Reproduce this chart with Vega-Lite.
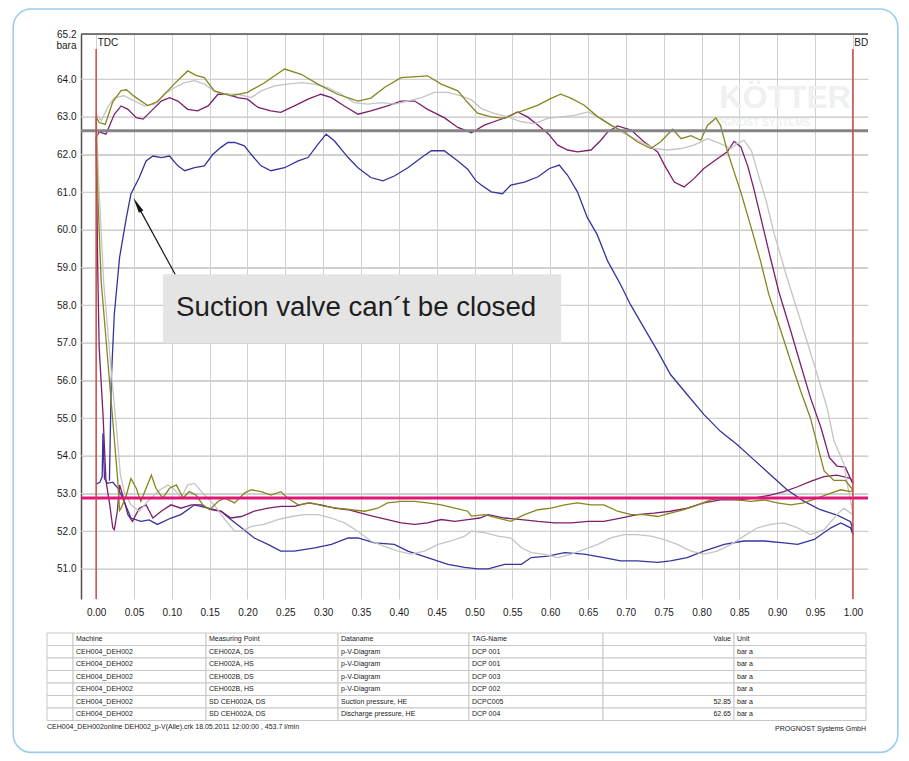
{
"$schema": "https://vega.github.io/schema/vega-lite/v6.json",
"padding": {"left": 12, "top": 8, "right": 12, "bottom": 9},
"background": "white",
"bounds": "flush",
"spacing": 34,
"config": {"view": {"stroke": null}, "font": "Liberation Sans, Arial, sans-serif",
 "axisX": {"grid": true, "gridColor": "#d0d0d0", "gridWidth": 1, "gridOpacity": 1, "domain": false, "ticks": false, "labelFontSize": 10, "labelColor": "#1a1a1a", "labelPadding": 8, "labelOverlap": false, "labelFlush": false},
 "axisY": {"grid": true, "gridColor": "#d0d0d0", "gridWidth": 1, "gridOpacity": 1, "domain": true, "domainColor": "#505050", "domainWidth": 1.5, "ticks": false, "labelFontSize": 10, "labelPadding": 5, "labelColor": "#1a1a1a", "labelOverlap": false, "labelFlush": false, "titleAngle": 0, "titleX": -15, "titleY": 11, "titleAlign": "center", "titleBaseline": "middle", "titleFontWeight": "normal", "titleFontSize": 10, "titleColor": "#1a1a1a"}},
"datasets": {
"frame": [{"x": -0.1096, "x2": 1.0594, "y": 65.863, "y2": 46.129}],
"top": [{"y": 65.2}],
"ygrid": [{"y": 51}, {"y": 52}, {"y": 53}, {"y": 54}, {"y": 55}, {"y": 56}, {"y": 57}, {"y": 58}, {"y": 59}, {"y": 60}, {"y": 61}, {"y": 62}, {"y": 63}, {"y": 64}],
"watermark": [{"x": 0.9105, "y": 63.5, "text": "KÖTTER"}, {"x": 0.872, "y": 62.84, "text": "PROGNOST SYSTEMS"}],
"refs": [{"id": "Suction", "y": 52.88}, {"id": "Discharge", "y": 62.63}],
"dc": [{"x": 0, "label": "TDC", "y": 64.8, "y2": 50.2, "ly": 64.97}, {"x": 1, "label": "BDC", "y": 64.8, "y2": 50.2, "ly": 64.97}],
"note": [{"x": 0.0885, "x2": 0.6145, "y": 58.82, "y2": 56.99, "tx": 0.1057, "ty": 57.93, "text": "Suction valve can´t be closed"}],
"arrow": [{"x": 0.1044, "y": 58.82}, {"x": 0.0543, "y": 60.67}],
"arrowhead": [{"x": 0.0543, "y": 60.67}],
"curves": [
{"s":"A DS","x":0.0,"y":53.25},{"s":"A DS","x":0.005,"y":53.3},{"s":"A DS","x":0.008,"y":53.45},{"s":"A DS","x":0.009,"y":54.6},{"s":"A DS","x":0.011,"y":53.4},{"s":"A DS","x":0.015,"y":53.27},{"s":"A DS","x":0.022,"y":53.3},{"s":"A DS","x":0.029,"y":53.14},{"s":"A DS","x":0.035,"y":52.88},{"s":"A DS","x":0.046,"y":52.35},{"s":"A DS","x":0.059,"y":52.26},{"s":"A DS","x":0.07,"y":52.3},{"s":"A DS","x":0.081,"y":52.18},{"s":"A DS","x":0.099,"y":52.35},{"s":"A DS","x":0.112,"y":52.44},{"s":"A DS","x":0.13,"y":52.7},{"s":"A DS","x":0.148,"y":52.61},{"s":"A DS","x":0.165,"y":52.53},{"s":"A DS","x":0.178,"y":52.31},{"s":"A DS","x":0.192,"y":52.09},{"s":"A DS","x":0.209,"y":51.82},{"s":"A DS","x":0.227,"y":51.65},{"s":"A DS","x":0.244,"y":51.47},{"s":"A DS","x":0.262,"y":51.47},{"s":"A DS","x":0.289,"y":51.56},{"s":"A DS","x":0.311,"y":51.65},{"s":"A DS","x":0.333,"y":51.82},{"s":"A DS","x":0.346,"y":51.82},{"s":"A DS","x":0.368,"y":51.69},{"s":"A DS","x":0.394,"y":51.65},{"s":"A DS","x":0.412,"y":51.47},{"s":"A DS","x":0.438,"y":51.3},{"s":"A DS","x":0.465,"y":51.12},{"s":"A DS","x":0.487,"y":51.04},{"s":"A DS","x":0.504,"y":51.0},{"s":"A DS","x":0.518,"y":51.0},{"s":"A DS","x":0.54,"y":51.12},{"s":"A DS","x":0.562,"y":51.12},{"s":"A DS","x":0.575,"y":51.3},{"s":"A DS","x":0.597,"y":51.34},{"s":"A DS","x":0.619,"y":51.43},{"s":"A DS","x":0.645,"y":51.39},{"s":"A DS","x":0.671,"y":51.3},{"s":"A DS","x":0.693,"y":51.21},{"s":"A DS","x":0.715,"y":51.21},{"s":"A DS","x":0.742,"y":51.17},{"s":"A DS","x":0.759,"y":51.21},{"s":"A DS","x":0.781,"y":51.3},{"s":"A DS","x":0.803,"y":51.47},{"s":"A DS","x":0.83,"y":51.65},{"s":"A DS","x":0.856,"y":51.74},{"s":"A DS","x":0.883,"y":51.74},{"s":"A DS","x":0.909,"y":51.69},{"s":"A DS","x":0.927,"y":51.65},{"s":"A DS","x":0.949,"y":51.78},{"s":"A DS","x":0.971,"y":52.09},{"s":"A DS","x":0.984,"y":52.22},{"s":"A DS","x":0.997,"y":52.09},{"s":"A DS","x":1.0,"y":51.91},
{"s":"A DS","x":0.999,"y":52.1},{"s":"A DS","x":0.997,"y":52.25},{"s":"A DS","x":0.98,"y":52.42},{"s":"A DS","x":0.957,"y":52.57},{"s":"A DS","x":0.935,"y":52.8},{"s":"A DS","x":0.913,"y":53.1},{"s":"A DS","x":0.891,"y":53.5},{"s":"A DS","x":0.869,"y":53.9},{"s":"A DS","x":0.847,"y":54.3},{"s":"A DS","x":0.825,"y":54.65},{"s":"A DS","x":0.803,"y":55.1},{"s":"A DS","x":0.781,"y":55.63},{"s":"A DS","x":0.759,"y":56.16},{"s":"A DS","x":0.742,"y":56.78},{"s":"A DS","x":0.724,"y":57.4},{"s":"A DS","x":0.706,"y":58.02},{"s":"A DS","x":0.693,"y":58.55},{"s":"A DS","x":0.676,"y":59.17},{"s":"A DS","x":0.662,"y":59.88},{"s":"A DS","x":0.649,"y":60.33},{"s":"A DS","x":0.636,"y":61.01},{"s":"A DS","x":0.623,"y":61.45},{"s":"A DS","x":0.612,"y":61.72},{"s":"A DS","x":0.599,"y":61.63},{"s":"A DS","x":0.584,"y":61.41},{"s":"A DS","x":0.566,"y":61.27},{"s":"A DS","x":0.548,"y":61.19},{"s":"A DS","x":0.537,"y":60.96},{"s":"A DS","x":0.522,"y":61.01},{"s":"A DS","x":0.509,"y":61.19},{"s":"A DS","x":0.502,"y":61.3},{"s":"A DS","x":0.491,"y":61.61},{"s":"A DS","x":0.478,"y":61.83},{"s":"A DS","x":0.46,"y":62.1},{"s":"A DS","x":0.443,"y":62.1},{"s":"A DS","x":0.43,"y":61.92},{"s":"A DS","x":0.412,"y":61.65},{"s":"A DS","x":0.394,"y":61.43},{"s":"A DS","x":0.379,"y":61.3},{"s":"A DS","x":0.363,"y":61.39},{"s":"A DS","x":0.346,"y":61.65},{"s":"A DS","x":0.333,"y":61.92},{"s":"A DS","x":0.315,"y":62.36},{"s":"A DS","x":0.304,"y":62.54},{"s":"A DS","x":0.293,"y":62.27},{"s":"A DS","x":0.28,"y":61.92},{"s":"A DS","x":0.267,"y":61.83},{"s":"A DS","x":0.249,"y":61.65},{"s":"A DS","x":0.231,"y":61.57},{"s":"A DS","x":0.218,"y":61.7},{"s":"A DS","x":0.205,"y":62.0},{"s":"A DS","x":0.196,"y":62.23},{"s":"A DS","x":0.183,"y":62.32},{"s":"A DS","x":0.174,"y":62.32},{"s":"A DS","x":0.165,"y":62.19},{"s":"A DS","x":0.154,"y":62.0},{"s":"A DS","x":0.143,"y":61.7},{"s":"A DS","x":0.13,"y":61.65},{"s":"A DS","x":0.117,"y":61.57},{"s":"A DS","x":0.108,"y":61.7},{"s":"A DS","x":0.097,"y":61.96},{"s":"A DS","x":0.086,"y":61.92},{"s":"A DS","x":0.075,"y":61.96},{"s":"A DS","x":0.066,"y":61.83},{"s":"A DS","x":0.057,"y":61.39},{"s":"A DS","x":0.046,"y":60.95},{"s":"A DS","x":0.04,"y":60.33},{"s":"A DS","x":0.031,"y":59.27},{"s":"A DS","x":0.024,"y":57.76},{"s":"A DS","x":0.02,"y":56.0},{"s":"A DS","x":0.0176,"y":53.34},
{"s":"A HS","x":0.0,"y":62.45},{"s":"A HS","x":0.004,"y":62.6},{"s":"A HS","x":0.013,"y":62.54},{"s":"A HS","x":0.024,"y":63.07},{"s":"A HS","x":0.033,"y":63.29},{"s":"A HS","x":0.042,"y":63.2},{"s":"A HS","x":0.053,"y":62.98},{"s":"A HS","x":0.062,"y":62.94},{"s":"A HS","x":0.073,"y":63.16},{"s":"A HS","x":0.086,"y":63.42},{"s":"A HS","x":0.097,"y":63.51},{"s":"A HS","x":0.108,"y":63.42},{"s":"A HS","x":0.121,"y":63.2},{"s":"A HS","x":0.134,"y":63.16},{"s":"A HS","x":0.148,"y":63.29},{"s":"A HS","x":0.161,"y":63.6},{"s":"A HS","x":0.174,"y":63.6},{"s":"A HS","x":0.187,"y":63.51},{"s":"A HS","x":0.2,"y":63.47},{"s":"A HS","x":0.214,"y":63.25},{"s":"A HS","x":0.231,"y":63.16},{"s":"A HS","x":0.244,"y":63.12},{"s":"A HS","x":0.262,"y":63.29},{"s":"A HS","x":0.28,"y":63.47},{"s":"A HS","x":0.297,"y":63.6},{"s":"A HS","x":0.311,"y":63.51},{"s":"A HS","x":0.328,"y":63.29},{"s":"A HS","x":0.346,"y":63.07},{"s":"A HS","x":0.363,"y":63.16},{"s":"A HS","x":0.385,"y":63.29},{"s":"A HS","x":0.403,"y":63.42},{"s":"A HS","x":0.421,"y":63.42},{"s":"A HS","x":0.438,"y":63.2},{"s":"A HS","x":0.46,"y":62.98},{"s":"A HS","x":0.478,"y":62.72},{"s":"A HS","x":0.496,"y":62.58},{"s":"A HS","x":0.513,"y":62.78},{"s":"A HS","x":0.531,"y":62.91},{"s":"A HS","x":0.544,"y":63.0},{"s":"A HS","x":0.557,"y":63.13},{"s":"A HS","x":0.57,"y":63.0},{"s":"A HS","x":0.584,"y":62.78},{"s":"A HS","x":0.597,"y":62.56},{"s":"A HS","x":0.61,"y":62.25},{"s":"A HS","x":0.623,"y":62.12},{"s":"A HS","x":0.636,"y":62.07},{"s":"A HS","x":0.654,"y":62.12},{"s":"A HS","x":0.667,"y":62.38},{"s":"A HS","x":0.676,"y":62.6},{"s":"A HS","x":0.689,"y":62.76},{"s":"A HS","x":0.707,"y":62.65},{"s":"A HS","x":0.724,"y":62.34},{"s":"A HS","x":0.742,"y":62.07},{"s":"A HS","x":0.751,"y":61.72},{"s":"A HS","x":0.764,"y":61.27},{"s":"A HS","x":0.777,"y":61.14},{"s":"A HS","x":0.79,"y":61.36},{"s":"A HS","x":0.803,"y":61.63},{"s":"A HS","x":0.821,"y":61.89},{"s":"A HS","x":0.834,"y":62.07},{"s":"A HS","x":0.843,"y":62.35},{"s":"A HS","x":0.852,"y":62.2},{"s":"A HS","x":0.861,"y":61.7},{"s":"A HS","x":0.869,"y":61.1},{"s":"A HS","x":0.878,"y":60.35},{"s":"A HS","x":0.891,"y":59.26},{"s":"A HS","x":0.902,"y":58.37},{"s":"A HS","x":0.918,"y":57.31},{"s":"A HS","x":0.931,"y":56.42},{"s":"A HS","x":0.944,"y":55.54},{"s":"A HS","x":0.958,"y":54.74},{"s":"A HS","x":0.969,"y":53.95},{"s":"A HS","x":0.979,"y":53.73},{"s":"A HS","x":0.99,"y":53.7},{"s":"A HS","x":0.999,"y":53.3},
{"s":"A HS","x":1.0,"y":53.3},{"s":"A HS","x":0.997,"y":53.4},{"s":"A HS","x":0.979,"y":53.49},{"s":"A HS","x":0.962,"y":53.45},{"s":"A HS","x":0.944,"y":53.32},{"s":"A HS","x":0.927,"y":53.18},{"s":"A HS","x":0.909,"y":53.05},{"s":"A HS","x":0.891,"y":52.96},{"s":"A HS","x":0.869,"y":52.88},{"s":"A HS","x":0.847,"y":52.83},{"s":"A HS","x":0.825,"y":52.83},{"s":"A HS","x":0.803,"y":52.75},{"s":"A HS","x":0.781,"y":52.61},{"s":"A HS","x":0.759,"y":52.53},{"s":"A HS","x":0.737,"y":52.48},{"s":"A HS","x":0.715,"y":52.44},{"s":"A HS","x":0.693,"y":52.35},{"s":"A HS","x":0.671,"y":52.26},{"s":"A HS","x":0.65,"y":52.26},{"s":"A HS","x":0.628,"y":52.22},{"s":"A HS","x":0.606,"y":52.22},{"s":"A HS","x":0.584,"y":52.26},{"s":"A HS","x":0.562,"y":52.31},{"s":"A HS","x":0.54,"y":52.35},{"s":"A HS","x":0.518,"y":52.44},{"s":"A HS","x":0.507,"y":52.35},{"s":"A HS","x":0.491,"y":52.31},{"s":"A HS","x":0.474,"y":52.26},{"s":"A HS","x":0.456,"y":52.31},{"s":"A HS","x":0.438,"y":52.22},{"s":"A HS","x":0.421,"y":52.18},{"s":"A HS","x":0.403,"y":52.22},{"s":"A HS","x":0.385,"y":52.31},{"s":"A HS","x":0.368,"y":52.39},{"s":"A HS","x":0.35,"y":52.48},{"s":"A HS","x":0.333,"y":52.57},{"s":"A HS","x":0.315,"y":52.61},{"s":"A HS","x":0.297,"y":52.7},{"s":"A HS","x":0.28,"y":52.75},{"s":"A HS","x":0.262,"y":52.66},{"s":"A HS","x":0.244,"y":52.66},{"s":"A HS","x":0.227,"y":52.61},{"s":"A HS","x":0.209,"y":52.53},{"s":"A HS","x":0.192,"y":52.39},{"s":"A HS","x":0.178,"y":52.35},{"s":"A HS","x":0.165,"y":52.53},{"s":"A HS","x":0.152,"y":52.57},{"s":"A HS","x":0.139,"y":52.7},{"s":"A HS","x":0.126,"y":52.7},{"s":"A HS","x":0.112,"y":52.61},{"s":"A HS","x":0.099,"y":52.7},{"s":"A HS","x":0.086,"y":52.53},{"s":"A HS","x":0.075,"y":52.35},{"s":"A HS","x":0.066,"y":52.7},{"s":"A HS","x":0.057,"y":52.61},{"s":"A HS","x":0.048,"y":52.26},{"s":"A HS","x":0.042,"y":52.44},{"s":"A HS","x":0.035,"y":52.96},{"s":"A HS","x":0.031,"y":53.23},{"s":"A HS","x":0.028,"y":52.53},{"s":"A HS","x":0.024,"y":52.04},{"s":"A HS","x":0.022,"y":52.09},{"s":"A HS","x":0.018,"y":52.7},{"s":"A HS","x":0.013,"y":53.34},{"s":"A HS","x":0.009,"y":55.12},{"s":"A HS","x":0.004,"y":56.88},{"s":"A HS","x":0.002,"y":59.09},{"s":"A HS","x":0.0,"y":62.45},
{"s":"B DS","x":0.0,"y":63.07},{"s":"B DS","x":0.007,"y":62.9},{"s":"B DS","x":0.015,"y":63.25},{"s":"B DS","x":0.024,"y":63.51},{"s":"B DS","x":0.037,"y":63.56},{"s":"B DS","x":0.051,"y":63.42},{"s":"B DS","x":0.064,"y":63.29},{"s":"B DS","x":0.077,"y":63.34},{"s":"B DS","x":0.09,"y":63.6},{"s":"B DS","x":0.104,"y":63.78},{"s":"B DS","x":0.117,"y":63.91},{"s":"B DS","x":0.13,"y":63.96},{"s":"B DS","x":0.143,"y":63.87},{"s":"B DS","x":0.156,"y":63.69},{"s":"B DS","x":0.17,"y":63.6},{"s":"B DS","x":0.187,"y":63.6},{"s":"B DS","x":0.205,"y":63.51},{"s":"B DS","x":0.218,"y":63.69},{"s":"B DS","x":0.236,"y":63.82},{"s":"B DS","x":0.253,"y":63.87},{"s":"B DS","x":0.271,"y":63.91},{"s":"B DS","x":0.289,"y":63.87},{"s":"B DS","x":0.306,"y":63.78},{"s":"B DS","x":0.324,"y":63.6},{"s":"B DS","x":0.341,"y":63.38},{"s":"B DS","x":0.359,"y":63.34},{"s":"B DS","x":0.377,"y":63.38},{"s":"B DS","x":0.394,"y":63.34},{"s":"B DS","x":0.412,"y":63.42},{"s":"B DS","x":0.43,"y":63.51},{"s":"B DS","x":0.447,"y":63.65},{"s":"B DS","x":0.465,"y":63.65},{"s":"B DS","x":0.482,"y":63.56},{"s":"B DS","x":0.496,"y":63.45},{"s":"B DS","x":0.509,"y":63.22},{"s":"B DS","x":0.526,"y":63.09},{"s":"B DS","x":0.544,"y":63.0},{"s":"B DS","x":0.562,"y":62.87},{"s":"B DS","x":0.579,"y":62.82},{"s":"B DS","x":0.597,"y":62.96},{"s":"B DS","x":0.614,"y":63.0},{"s":"B DS","x":0.632,"y":63.04},{"s":"B DS","x":0.65,"y":63.13},{"s":"B DS","x":0.667,"y":62.96},{"s":"B DS","x":0.685,"y":62.73},{"s":"B DS","x":0.702,"y":62.51},{"s":"B DS","x":0.72,"y":62.34},{"s":"B DS","x":0.737,"y":62.16},{"s":"B DS","x":0.755,"y":62.12},{"s":"B DS","x":0.773,"y":62.16},{"s":"B DS","x":0.79,"y":62.25},{"s":"B DS","x":0.808,"y":62.42},{"s":"B DS","x":0.825,"y":62.29},{"s":"B DS","x":0.839,"y":62.16},{"s":"B DS","x":0.847,"y":62.29},{"s":"B DS","x":0.856,"y":62.38},{"s":"B DS","x":0.866,"y":62.1},{"s":"B DS","x":0.876,"y":61.4},{"s":"B DS","x":0.885,"y":60.8},{"s":"B DS","x":0.896,"y":59.9},{"s":"B DS","x":0.913,"y":58.73},{"s":"B DS","x":0.931,"y":57.58},{"s":"B DS","x":0.949,"y":56.42},{"s":"B DS","x":0.966,"y":55.27},{"s":"B DS","x":0.975,"y":54.4},{"s":"B DS","x":0.988,"y":53.8},{"s":"B DS","x":0.995,"y":53.0},{"s":"B DS","x":1.0,"y":52.5},
{"s":"B DS","x":1.0,"y":52.44},{"s":"B DS","x":0.988,"y":52.61},{"s":"B DS","x":0.979,"y":52.44},{"s":"B DS","x":0.962,"y":52.04},{"s":"B DS","x":0.944,"y":51.91},{"s":"B DS","x":0.927,"y":52.09},{"s":"B DS","x":0.909,"y":52.22},{"s":"B DS","x":0.891,"y":52.18},{"s":"B DS","x":0.874,"y":52.09},{"s":"B DS","x":0.856,"y":51.87},{"s":"B DS","x":0.839,"y":51.65},{"s":"B DS","x":0.821,"y":51.47},{"s":"B DS","x":0.803,"y":51.39},{"s":"B DS","x":0.786,"y":51.47},{"s":"B DS","x":0.768,"y":51.65},{"s":"B DS","x":0.75,"y":51.78},{"s":"B DS","x":0.733,"y":51.87},{"s":"B DS","x":0.715,"y":51.91},{"s":"B DS","x":0.698,"y":51.91},{"s":"B DS","x":0.68,"y":51.82},{"s":"B DS","x":0.663,"y":51.65},{"s":"B DS","x":0.645,"y":51.52},{"s":"B DS","x":0.628,"y":51.39},{"s":"B DS","x":0.61,"y":51.3},{"s":"B DS","x":0.592,"y":51.39},{"s":"B DS","x":0.575,"y":51.43},{"s":"B DS","x":0.562,"y":51.56},{"s":"B DS","x":0.548,"y":51.82},{"s":"B DS","x":0.531,"y":51.87},{"s":"B DS","x":0.513,"y":51.96},{"s":"B DS","x":0.496,"y":52.0},{"s":"B DS","x":0.487,"y":51.87},{"s":"B DS","x":0.469,"y":51.74},{"s":"B DS","x":0.452,"y":51.65},{"s":"B DS","x":0.434,"y":51.47},{"s":"B DS","x":0.416,"y":51.39},{"s":"B DS","x":0.399,"y":51.47},{"s":"B DS","x":0.381,"y":51.6},{"s":"B DS","x":0.363,"y":51.74},{"s":"B DS","x":0.346,"y":52.0},{"s":"B DS","x":0.328,"y":52.22},{"s":"B DS","x":0.311,"y":52.35},{"s":"B DS","x":0.293,"y":52.44},{"s":"B DS","x":0.275,"y":52.44},{"s":"B DS","x":0.258,"y":52.39},{"s":"B DS","x":0.24,"y":52.31},{"s":"B DS","x":0.222,"y":52.18},{"s":"B DS","x":0.205,"y":52.13},{"s":"B DS","x":0.192,"y":52.0},{"s":"B DS","x":0.183,"y":52.0},{"s":"B DS","x":0.17,"y":52.31},{"s":"B DS","x":0.156,"y":52.7},{"s":"B DS","x":0.143,"y":52.96},{"s":"B DS","x":0.13,"y":53.27},{"s":"B DS","x":0.121,"y":53.23},{"s":"B DS","x":0.112,"y":52.88},{"s":"B DS","x":0.104,"y":53.1},{"s":"B DS","x":0.095,"y":53.23},{"s":"B DS","x":0.081,"y":53.05},{"s":"B DS","x":0.068,"y":52.79},{"s":"B DS","x":0.057,"y":52.53},{"s":"B DS","x":0.046,"y":52.7},{"s":"B DS","x":0.037,"y":53.05},{"s":"B DS","x":0.032,"y":53.5},{"s":"B DS","x":0.028,"y":54.5},{"s":"B DS","x":0.021,"y":56.0},{"s":"B DS","x":0.01,"y":58.6},{"s":"B DS","x":0.004,"y":61.0},{"s":"B DS","x":0.0,"y":63.07},
{"s":"B HS","x":0.0,"y":63.0},{"s":"B HS","x":0.004,"y":62.85},{"s":"B HS","x":0.012,"y":62.8},{"s":"B HS","x":0.022,"y":63.4},{"s":"B HS","x":0.033,"y":63.7},{"s":"B HS","x":0.04,"y":63.72},{"s":"B HS","x":0.05,"y":63.55},{"s":"B HS","x":0.068,"y":63.3},{"s":"B HS","x":0.081,"y":63.4},{"s":"B HS","x":0.103,"y":63.87},{"s":"B HS","x":0.121,"y":64.22},{"s":"B HS","x":0.132,"y":64.1},{"s":"B HS","x":0.143,"y":64.04},{"s":"B HS","x":0.156,"y":63.69},{"s":"B HS","x":0.178,"y":63.56},{"s":"B HS","x":0.2,"y":63.65},{"s":"B HS","x":0.222,"y":63.9},{"s":"B HS","x":0.249,"y":64.27},{"s":"B HS","x":0.271,"y":64.13},{"s":"B HS","x":0.293,"y":63.87},{"s":"B HS","x":0.319,"y":63.6},{"s":"B HS","x":0.346,"y":63.42},{"s":"B HS","x":0.363,"y":63.5},{"s":"B HS","x":0.381,"y":63.78},{"s":"B HS","x":0.403,"y":64.04},{"s":"B HS","x":0.438,"y":64.09},{"s":"B HS","x":0.456,"y":63.87},{"s":"B HS","x":0.478,"y":63.69},{"s":"B HS","x":0.49,"y":63.4},{"s":"B HS","x":0.504,"y":63.1},{"s":"B HS","x":0.522,"y":63.0},{"s":"B HS","x":0.54,"y":62.96},{"s":"B HS","x":0.553,"y":63.09},{"s":"B HS","x":0.566,"y":63.18},{"s":"B HS","x":0.584,"y":63.31},{"s":"B HS","x":0.601,"y":63.49},{"s":"B HS","x":0.614,"y":63.6},{"s":"B HS","x":0.628,"y":63.49},{"s":"B HS","x":0.645,"y":63.31},{"s":"B HS","x":0.663,"y":63.0},{"s":"B HS","x":0.68,"y":62.78},{"s":"B HS","x":0.698,"y":62.6},{"s":"B HS","x":0.715,"y":62.34},{"s":"B HS","x":0.733,"y":62.16},{"s":"B HS","x":0.746,"y":62.34},{"s":"B HS","x":0.762,"y":62.67},{"s":"B HS","x":0.773,"y":62.42},{"s":"B HS","x":0.786,"y":62.5},{"s":"B HS","x":0.799,"y":62.38},{"s":"B HS","x":0.808,"y":62.78},{"s":"B HS","x":0.819,"y":62.97},{"s":"B HS","x":0.825,"y":62.78},{"s":"B HS","x":0.834,"y":62.1},{"s":"B HS","x":0.843,"y":61.54},{"s":"B HS","x":0.852,"y":61.0},{"s":"B HS","x":0.867,"y":59.96},{"s":"B HS","x":0.878,"y":59.17},{"s":"B HS","x":0.889,"y":58.28},{"s":"B HS","x":0.905,"y":57.31},{"s":"B HS","x":0.918,"y":56.5},{"s":"B HS","x":0.931,"y":55.72},{"s":"B HS","x":0.944,"y":55.0},{"s":"B HS","x":0.953,"y":54.3},{"s":"B HS","x":0.962,"y":53.6},{"s":"B HS","x":0.975,"y":53.35},{"s":"B HS","x":0.99,"y":53.35},{"s":"B HS","x":1.0,"y":53.1},
{"s":"B HS","x":0.997,"y":53.05},{"s":"B HS","x":0.984,"y":53.1},{"s":"B HS","x":0.971,"y":53.01},{"s":"B HS","x":0.953,"y":52.88},{"s":"B HS","x":0.935,"y":52.75},{"s":"B HS","x":0.918,"y":52.7},{"s":"B HS","x":0.9,"y":52.75},{"s":"B HS","x":0.883,"y":52.83},{"s":"B HS","x":0.865,"y":52.79},{"s":"B HS","x":0.847,"y":52.83},{"s":"B HS","x":0.83,"y":52.88},{"s":"B HS","x":0.812,"y":52.83},{"s":"B HS","x":0.795,"y":52.7},{"s":"B HS","x":0.777,"y":52.57},{"s":"B HS","x":0.759,"y":52.48},{"s":"B HS","x":0.742,"y":52.39},{"s":"B HS","x":0.724,"y":52.44},{"s":"B HS","x":0.707,"y":52.44},{"s":"B HS","x":0.689,"y":52.53},{"s":"B HS","x":0.671,"y":52.7},{"s":"B HS","x":0.654,"y":52.7},{"s":"B HS","x":0.636,"y":52.75},{"s":"B HS","x":0.619,"y":52.7},{"s":"B HS","x":0.601,"y":52.61},{"s":"B HS","x":0.584,"y":52.57},{"s":"B HS","x":0.566,"y":52.44},{"s":"B HS","x":0.548,"y":52.26},{"s":"B HS","x":0.531,"y":52.35},{"s":"B HS","x":0.513,"y":52.44},{"s":"B HS","x":0.496,"y":52.4},{"s":"B HS","x":0.491,"y":52.53},{"s":"B HS","x":0.474,"y":52.61},{"s":"B HS","x":0.456,"y":52.7},{"s":"B HS","x":0.438,"y":52.75},{"s":"B HS","x":0.421,"y":52.79},{"s":"B HS","x":0.403,"y":52.79},{"s":"B HS","x":0.385,"y":52.75},{"s":"B HS","x":0.372,"y":52.61},{"s":"B HS","x":0.355,"y":52.53},{"s":"B HS","x":0.337,"y":52.57},{"s":"B HS","x":0.319,"y":52.61},{"s":"B HS","x":0.302,"y":52.66},{"s":"B HS","x":0.284,"y":52.75},{"s":"B HS","x":0.267,"y":52.7},{"s":"B HS","x":0.253,"y":52.88},{"s":"B HS","x":0.244,"y":53.05},{"s":"B HS","x":0.231,"y":52.96},{"s":"B HS","x":0.218,"y":53.05},{"s":"B HS","x":0.205,"y":53.1},{"s":"B HS","x":0.196,"y":53.01},{"s":"B HS","x":0.183,"y":52.75},{"s":"B HS","x":0.17,"y":52.88},{"s":"B HS","x":0.161,"y":52.79},{"s":"B HS","x":0.15,"y":52.57},{"s":"B HS","x":0.141,"y":52.7},{"s":"B HS","x":0.132,"y":52.96},{"s":"B HS","x":0.123,"y":53.05},{"s":"B HS","x":0.115,"y":52.88},{"s":"B HS","x":0.106,"y":53.23},{"s":"B HS","x":0.097,"y":53.14},{"s":"B HS","x":0.088,"y":52.88},{"s":"B HS","x":0.079,"y":53.14},{"s":"B HS","x":0.073,"y":53.49},{"s":"B HS","x":0.066,"y":53.14},{"s":"B HS","x":0.059,"y":52.79},{"s":"B HS","x":0.053,"y":53.14},{"s":"B HS","x":0.046,"y":53.4},{"s":"B HS","x":0.04,"y":52.96},{"s":"B HS","x":0.033,"y":52.61},{"s":"B HS","x":0.031,"y":52.55},{"s":"B HS","x":0.0286,"y":53.34},{"s":"B HS","x":0.0176,"y":56.0},{"s":"B HS","x":0.0066,"y":58.65},{"s":"B HS","x":0.0015,"y":61.3},{"s":"B HS","x":0.0,"y":63.0}
],
"table": [
{"r": 0, "id": null, "Machine": "Machine", "Point": "Measuring Point", "Dataname": "Dataname", "Tag": "TAG-Name", "Value": "Value", "Unit": "Unit"},
{"r": 1, "id": "A DS", "Machine": "CEH004_DEH002", "Point": "CEH002A, DS", "Dataname": "p-V-Diagram", "Tag": "DCP 001", "Value": "", "Unit": "bar a"},
{"r": 2, "id": "A HS", "Machine": "CEH004_DEH002", "Point": "CEH002A, HS", "Dataname": "p-V-Diagram", "Tag": "DCP 001", "Value": "", "Unit": "bar a"},
{"r": 3, "id": "B DS", "Machine": "CEH004_DEH002", "Point": "CEH002B, DS", "Dataname": "p-V-Diagram", "Tag": "DCP 003", "Value": "", "Unit": "bar a"},
{"r": 4, "id": "B HS", "Machine": "CEH004_DEH002", "Point": "CEH002B, HS", "Dataname": "p-V-Diagram", "Tag": "DCP 002", "Value": "", "Unit": "bar a"},
{"r": 5, "id": "Suction", "Machine": "CEH004_DEH002", "Point": "SD CEH002A, DS", "Dataname": "Suction pressure, HE", "Tag": "DCPC005", "Value": "52.85", "Unit": "bar a"},
{"r": 6, "id": "Discharge", "Machine": "CEH004_DEH002", "Point": "SD CEH002A, DS", "Dataname": "Discharge pressure, HE", "Tag": "DCP 004", "Value": "62.65", "Unit": "bar a"}
],
"cols": [{"key": "Machine", "c": 1, "c2": 2}, {"key": "Point", "c": 2, "c2": 3}, {"key": "Dataname", "c": 3, "c2": 4}, {"key": "Tag", "c": 4, "c2": 5}, {"key": "Value", "c": 5, "c2": 6}, {"key": "Unit", "c": 6, "c2": 7}],
"footer": [{"r": 7, "side": "left", "text": "CEH004_DEH002online DEH002_p-V(Alle).crk 18.05.2011 12:00:00 ,   453.7 l/min"}, {"r": 7, "side": "right", "text": "PROGNOST Systems GmbH"}]
},
"vconcat": [
{
"width": 787, "height": 565,
"layer": [
{"data": {"name": "frame"}, "mark": {"type": "rect", "fill": "transparent", "stroke": "#9ccdec", "strokeWidth": 1.6, "cornerRadius": 18},
 "encoding": {"x": {"field": "x", "type": "quantitative", "scale": {"domain": [-0.02, 1.02], "nice": false, "zero": false}, "axis": {"values": [0,0.05,0.1,0.15,0.2,0.25,0.3,0.35,0.4,0.45,0.5,0.55,0.6,0.65,0.7,0.75,0.8,0.85,0.9,0.95,1], "format": ".2f", "title": null, "grid": true, "gridColor": "#d0d0d0"}},
  "x2": {"field": "x2"},
  "y": {"field": "y", "type": "quantitative", "scale": {"domain": [50.2, 65.2], "nice": false, "zero": false}, "axis": {"values": [51,52,53,54,55,56,57,58,59,60,61,62,63,64,65.2], "format": ".1f", "title": "bara", "grid": true, "gridColor": "#d0d0d0"}},
  "y2": {"field": "y2"}}},
{"data": {"name": "ygrid"}, "mark": {"type": "rule", "color": "#d0d0d0", "strokeWidth": 1},
 "encoding": {"y": {"field": "y", "type": "quantitative", "scale": {"domain": [50.2, 65.2], "nice": false, "zero": false}, "axis": {"values": [51,52,53,54,55,56,57,58,59,60,61,62,63,64,65.2], "format": ".1f", "title": "bara", "grid": true, "gridColor": "#d0d0d0"}}}},
{"data": {"name": "watermark"}, "transform": [{"filter": {"field": "text", "equal": "KÖTTER"}}],
 "mark": {"type": "text", "fontSize": 32, "fontWeight": "bold", "color": "#eef0f2", "align": "center", "baseline": "middle"},
 "encoding": {"x": {"field": "x", "type": "quantitative", "scale": {"domain": [-0.02, 1.02], "nice": false, "zero": false}, "axis": {"values": [0,0.05,0.1,0.15,0.2,0.25,0.3,0.35,0.4,0.45,0.5,0.55,0.6,0.65,0.7,0.75,0.8,0.85,0.9,0.95,1], "format": ".2f", "title": null, "grid": true, "gridColor": "#d0d0d0"}},
  "y": {"field": "y", "type": "quantitative", "scale": {"domain": [50.2, 65.2], "nice": false, "zero": false}, "axis": {"values": [51,52,53,54,55,56,57,58,59,60,61,62,63,64,65.2], "format": ".1f", "title": "bara", "grid": true, "gridColor": "#d0d0d0"}}, "text": {"field": "text"}}},
{"data": {"name": "watermark"}, "transform": [{"filter": {"field": "text", "equal": "PROGNOST SYSTEMS"}}],
 "mark": {"type": "text", "fontSize": 10, "fontWeight": "bold", "color": "#eef0f2", "align": "center", "baseline": "middle"},
 "encoding": {"x": {"field": "x", "type": "quantitative", "scale": {"domain": [-0.02, 1.02], "nice": false, "zero": false}, "axis": {"values": [0,0.05,0.1,0.15,0.2,0.25,0.3,0.35,0.4,0.45,0.5,0.55,0.6,0.65,0.7,0.75,0.8,0.85,0.9,0.95,1], "format": ".2f", "title": null, "grid": true, "gridColor": "#d0d0d0"}},
  "y": {"field": "y", "type": "quantitative", "scale": {"domain": [50.2, 65.2], "nice": false, "zero": false}, "axis": {"values": [51,52,53,54,55,56,57,58,59,60,61,62,63,64,65.2], "format": ".1f", "title": "bara", "grid": true, "gridColor": "#d0d0d0"}}, "text": {"field": "text"}}},
{"data": {"name": "curves"}, "mark": {"type": "line", "strokeWidth": 1.3},
 "encoding": {
  "x": {"field": "x", "type": "quantitative", "scale": {"domain": [-0.02, 1.02], "nice": false, "zero": false}, "axis": {"values": [0,0.05,0.1,0.15,0.2,0.25,0.3,0.35,0.4,0.45,0.5,0.55,0.6,0.65,0.7,0.75,0.8,0.85,0.9,0.95,1], "format": ".2f", "title": null, "grid": true, "gridColor": "#d0d0d0"}},
  "y": {"field": "y", "type": "quantitative", "scale": {"domain": [50.2, 65.2], "nice": false, "zero": false}, "axis": {"values": [51,52,53,54,55,56,57,58,59,60,61,62,63,64,65.2], "format": ".1f", "title": "bara", "grid": true, "gridColor": "#d0d0d0"}},
  "color": {"field": "s", "type": "nominal", "scale": {"domain": ["A DS","A HS","B DS","B HS","Suction","Discharge"], "range": ["#34349e","#7d1f6b","#c4c4c4","#86861f","#df1677","#858585"]}, "legend": null},
  "order": {"value": null}}},
{"data": {"name": "refs"}, "mark": {"type": "rule", "strokeWidth": 3},
 "encoding": {"y": {"field": "y", "type": "quantitative", "scale": {"domain": [50.2, 65.2], "nice": false, "zero": false}, "axis": {"values": [51,52,53,54,55,56,57,58,59,60,61,62,63,64,65.2], "format": ".1f", "title": "bara", "grid": true, "gridColor": "#d0d0d0"}},
  "color": {"field": "id", "type": "nominal", "scale": {"domain": ["A DS","A HS","B DS","B HS","Suction","Discharge"], "range": ["#34349e","#7d1f6b","#c4c4c4","#86861f","#df1677","#858585"]}, "legend": null}}},
{"data": {"name": "dc"}, "mark": {"type": "rule", "color": "#d04848", "strokeWidth": 1.5},
 "encoding": {"x": {"field": "x", "type": "quantitative", "scale": {"domain": [-0.02, 1.02], "nice": false, "zero": false}, "axis": {"values": [0,0.05,0.1,0.15,0.2,0.25,0.3,0.35,0.4,0.45,0.5,0.55,0.6,0.65,0.7,0.75,0.8,0.85,0.9,0.95,1], "format": ".2f", "title": null, "grid": true, "gridColor": "#d0d0d0"}},
  "y": {"field": "y", "type": "quantitative", "scale": {"domain": [50.2, 65.2], "nice": false, "zero": false}, "axis": {"values": [51,52,53,54,55,56,57,58,59,60,61,62,63,64,65.2], "format": ".1f", "title": "bara", "grid": true, "gridColor": "#d0d0d0"}}, "y2": {"field": "y2"}}},
{"data": {"name": "top"}, "mark": {"type": "rule", "color": "#505050", "strokeWidth": 1.5},
 "encoding": {"y": {"field": "y", "type": "quantitative", "scale": {"domain": [50.2, 65.2], "nice": false, "zero": false}, "axis": {"values": [51,52,53,54,55,56,57,58,59,60,61,62,63,64,65.2], "format": ".1f", "title": "bara", "grid": true, "gridColor": "#d0d0d0"}}}},
{"data": {"name": "dc"}, "mark": {"type": "text", "fontSize": 10, "color": "#1a1a1a", "align": "left", "baseline": "middle", "dx": 1.5, "clip": true},
 "encoding": {"x": {"field": "x", "type": "quantitative", "scale": {"domain": [-0.02, 1.02], "nice": false, "zero": false}, "axis": {"values": [0,0.05,0.1,0.15,0.2,0.25,0.3,0.35,0.4,0.45,0.5,0.55,0.6,0.65,0.7,0.75,0.8,0.85,0.9,0.95,1], "format": ".2f", "title": null, "grid": true, "gridColor": "#d0d0d0"}},
  "y": {"field": "ly", "type": "quantitative", "scale": {"domain": [50.2, 65.2], "nice": false, "zero": false}, "axis": {"values": [51,52,53,54,55,56,57,58,59,60,61,62,63,64,65.2], "format": ".1f", "title": "bara", "grid": true, "gridColor": "#d0d0d0"}}, "text": {"field": "label"}}},
{"data": {"name": "note"}, "mark": {"type": "rect", "fill": "#e4e4e4"},
 "encoding": {"x": {"field": "x", "type": "quantitative", "scale": {"domain": [-0.02, 1.02], "nice": false, "zero": false}, "axis": {"values": [0,0.05,0.1,0.15,0.2,0.25,0.3,0.35,0.4,0.45,0.5,0.55,0.6,0.65,0.7,0.75,0.8,0.85,0.9,0.95,1], "format": ".2f", "title": null, "grid": true, "gridColor": "#d0d0d0"}}, "x2": {"field": "x2"},
  "y": {"field": "y", "type": "quantitative", "scale": {"domain": [50.2, 65.2], "nice": false, "zero": false}, "axis": {"values": [51,52,53,54,55,56,57,58,59,60,61,62,63,64,65.2], "format": ".1f", "title": "bara", "grid": true, "gridColor": "#d0d0d0"}}, "y2": {"field": "y2"}}},
{"data": {"name": "note"}, "mark": {"type": "text", "font": "Liberation Sans, Arial, sans-serif", "fontSize": 27.7, "color": "#1e1e1e", "align": "left", "baseline": "middle"},
 "encoding": {"x": {"field": "tx", "type": "quantitative", "scale": {"domain": [-0.02, 1.02], "nice": false, "zero": false}, "axis": {"values": [0,0.05,0.1,0.15,0.2,0.25,0.3,0.35,0.4,0.45,0.5,0.55,0.6,0.65,0.7,0.75,0.8,0.85,0.9,0.95,1], "format": ".2f", "title": null, "grid": true, "gridColor": "#d0d0d0"}},
  "y": {"field": "ty", "type": "quantitative", "scale": {"domain": [50.2, 65.2], "nice": false, "zero": false}, "axis": {"values": [51,52,53,54,55,56,57,58,59,60,61,62,63,64,65.2], "format": ".1f", "title": "bara", "grid": true, "gridColor": "#d0d0d0"}}, "text": {"field": "text"}}},
{"data": {"name": "arrow"}, "mark": {"type": "line", "color": "#151515", "strokeWidth": 1.2},
 "encoding": {"x": {"field": "x", "type": "quantitative", "scale": {"domain": [-0.02, 1.02], "nice": false, "zero": false}, "axis": {"values": [0,0.05,0.1,0.15,0.2,0.25,0.3,0.35,0.4,0.45,0.5,0.55,0.6,0.65,0.7,0.75,0.8,0.85,0.9,0.95,1], "format": ".2f", "title": null, "grid": true, "gridColor": "#d0d0d0"}},
  "y": {"field": "y", "type": "quantitative", "scale": {"domain": [50.2, 65.2], "nice": false, "zero": false}, "axis": {"values": [51,52,53,54,55,56,57,58,59,60,61,62,63,64,65.2], "format": ".1f", "title": "bara", "grid": true, "gridColor": "#d0d0d0"}}}},
{"data": {"name": "arrowhead"}, "mark": {"type": "point", "shape": "M0,-1L-0.32,1L0.32,1Z", "size": 256, "filled": true, "color": "#151515", "opacity": 1, "angle": 331},
 "encoding": {"x": {"field": "x", "type": "quantitative", "scale": {"domain": [-0.02, 1.02], "nice": false, "zero": false}, "axis": {"values": [0,0.05,0.1,0.15,0.2,0.25,0.3,0.35,0.4,0.45,0.5,0.55,0.6,0.65,0.7,0.75,0.8,0.85,0.9,0.95,1], "format": ".2f", "title": null, "grid": true, "gridColor": "#d0d0d0"}},
  "y": {"field": "y", "type": "quantitative", "scale": {"domain": [50.2, 65.2], "nice": false, "zero": false}, "axis": {"values": [51,52,53,54,55,56,57,58,59,60,61,62,63,64,65.2], "format": ".1f", "title": "bara", "grid": true, "gridColor": "#d0d0d0"}}}}
]
},
{
"width": 787, "height": 100,
"layer": [
{"data": {"name": "table"}, "mark": {"type": "rect", "fill": "white", "stroke": "#c8c8c8", "strokeWidth": 1},
 "encoding": {"x": {"datum": 0, "type": "quantitative", "scale": {"domain": [0,1,2,3,4,5,6,7], "range": [-34,-8,125,257,388,522,653,785], "nice": false, "zero": false}, "axis": null}, "x2": {"datum": 1},
  "y": {"field": "r", "type": "ordinal", "scale": {"type": "band", "domain": [0,1,2,3,4,5,6,7], "paddingInner": 0, "paddingOuter": 0}, "axis": null}}},
{"data": {"name": "table"}, "transform": [{"filter": {"field": "id", "valid": true}}], "mark": {"type": "rect", "stroke": "#d8d8d8", "strokeWidth": 1, "opacity": 1},
 "encoding": {"x": {"datum": 0, "type": "quantitative", "scale": {"domain": [0,1,2,3,4,5,6,7], "range": [-34,-8,125,257,388,522,653,785], "nice": false, "zero": false}, "axis": null}, "x2": {"datum": 1},
  "y": {"field": "r", "type": "ordinal", "scale": {"type": "band", "domain": [0,1,2,3,4,5,6,7], "paddingInner": 0, "paddingOuter": 0}, "axis": null},
  "color": {"field": "id", "type": "nominal", "scale": {"domain": ["A DS","A HS","B DS","B HS","Suction","Discharge"], "range": ["#34349e","#7d1f6b","#c4c4c4","#86861f","#df1677","#858585"]}, "legend": null}}},
{"data": {"name": "table"}, "transform": [{"fold": ["Machine","Point","Dataname","Tag","Value","Unit"], "as": ["key","val"]}, {"lookup": "key", "from": {"data": {"name": "cols"}, "key": "key", "fields": ["c","c2"]}}],
 "mark": {"type": "rect", "fill": "white", "stroke": "#c8c8c8", "strokeWidth": 1},
 "encoding": {"x": {"field": "c", "type": "quantitative", "scale": {"domain": [0,1,2,3,4,5,6,7], "range": [-34,-8,125,257,388,522,653,785], "nice": false, "zero": false}, "axis": null}, "x2": {"field": "c2"},
  "y": {"field": "r", "type": "ordinal", "scale": {"type": "band", "domain": [0,1,2,3,4,5,6,7], "paddingInner": 0, "paddingOuter": 0}, "axis": null}}},
{"data": {"name": "table"}, "transform": [{"fold": ["Machine","Point","Dataname","Tag","Unit"], "as": ["key","val"]}, {"lookup": "key", "from": {"data": {"name": "cols"}, "key": "key", "fields": ["c","c2"]}}],
 "mark": {"type": "text", "fontSize": 7, "color": "#1a1a1a", "align": "left", "baseline": "middle", "dx": 3},
 "encoding": {"x": {"field": "c", "type": "quantitative", "scale": {"domain": [0,1,2,3,4,5,6,7], "range": [-34,-8,125,257,388,522,653,785], "nice": false, "zero": false}, "axis": null},
  "y": {"field": "r", "type": "ordinal", "scale": {"type": "band", "domain": [0,1,2,3,4,5,6,7], "paddingInner": 0, "paddingOuter": 0}, "axis": null}, "text": {"field": "val"}}},
{"data": {"name": "table"},
 "mark": {"type": "text", "fontSize": 7, "color": "#1a1a1a", "align": "right", "baseline": "middle", "dx": -3},
 "encoding": {"x": {"datum": 6, "type": "quantitative", "scale": {"domain": [0,1,2,3,4,5,6,7], "range": [-34,-8,125,257,388,522,653,785], "nice": false, "zero": false}, "axis": null},
  "y": {"field": "r", "type": "ordinal", "scale": {"type": "band", "domain": [0,1,2,3,4,5,6,7], "paddingInner": 0, "paddingOuter": 0}, "axis": null}, "text": {"field": "Value"}}},
{"data": {"name": "footer"}, "transform": [{"filter": {"field": "side", "equal": "left"}}],
 "mark": {"type": "text", "fontSize": 7, "color": "#1a1a1a", "align": "left", "baseline": "middle", "dx": 0},
 "encoding": {"x": {"datum": 0, "type": "quantitative", "scale": {"domain": [0,1,2,3,4,5,6,7], "range": [-34,-8,125,257,388,522,653,785], "nice": false, "zero": false}, "axis": null},
  "y": {"field": "r", "type": "ordinal", "scale": {"type": "band", "domain": [0,1,2,3,4,5,6,7], "paddingInner": 0, "paddingOuter": 0}, "axis": null}, "text": {"field": "text"}}},
{"data": {"name": "footer"}, "transform": [{"filter": {"field": "side", "equal": "right"}}],
 "mark": {"type": "text", "fontSize": 7, "color": "#1a1a1a", "align": "right", "baseline": "middle", "dy": 2},
 "encoding": {"x": {"datum": 7, "type": "quantitative", "scale": {"domain": [0,1,2,3,4,5,6,7], "range": [-34,-8,125,257,388,522,653,785], "nice": false, "zero": false}, "axis": null},
  "y": {"field": "r", "type": "ordinal", "scale": {"type": "band", "domain": [0,1,2,3,4,5,6,7], "paddingInner": 0, "paddingOuter": 0}, "axis": null}, "text": {"field": "text"}}}
]
}
]
}
